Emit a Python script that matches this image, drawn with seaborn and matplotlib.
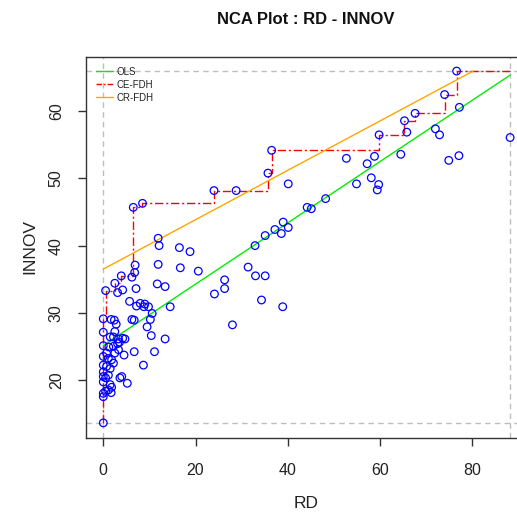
import numpy as np
import pandas as pd
import matplotlib
matplotlib.use("Agg")
import matplotlib.pyplot as plt
from matplotlib.lines import Line2D
import seaborn as sns

# ---------------- data ----------------
rd = [76.6, 74.0, 67.6, 65.3, 65.8, 59.8, 77.2, 72.0, 72.9, 88.2,
      52.7, 57.2, 58.8, 64.5, 74.9, 77.1, 40.1, 54.9, 58.1, 59.7,
      59.4, 48.2, 44.2, 45.1, 39.0, 40.1, 38.6, 37.2, 35.1, 32.9,
      38.9, 36.5, 35.7, 24.0, 28.8, 6.5, 8.5, 11.9, 12.1, 16.5,
      18.8, 16.7, 20.6, 31.4, 33.0, 35.1, 26.3, 26.3, 24.1, 34.3,
      28.0, 11.9, 6.8, 6.9, 0.5, 2.5, 3.9, 6.2, 3.1, 4.2,
      7.1, 11.7, 13.4, 5.7, 7.2, 8.0, 8.8, 9.0, 9.8, 10.6,
      14.5, 10.2, 9.5, 10.4, 13.4, 0.0, 0.0, 0.0, 1.7, 2.4,
      2.8, 6.2, 6.7, 2.5, 1.5, 2.2, 3.3, 4.2, 4.7, 1.2,
      2.2, 3.1, 3.5, 4.5, 6.7, 11.1, 8.7, 0.0, 0.0, 0.0,
      0.0, 0.0, 0.0, 0.0, 0.0, 0.7, 1.1, 1.8, 2.2, 0.7,
      1.5, 1.1, 0.5, 1.5, 1.8, 1.1, 0.5, 1.7, 3.6, 4.0,
      5.2, 2.5, 3.3]
innov = [66.0, 62.5, 59.7, 58.6, 56.9, 56.5, 60.6, 57.4, 56.5, 56.1,
         53.0, 52.2, 53.3, 53.6, 52.7, 53.4, 49.2, 49.2, 50.1, 49.1,
         48.3, 47.0, 45.7, 45.5, 43.5, 42.7, 41.8, 42.4, 41.5, 40.0,
         30.9, 54.2, 50.8, 48.2, 48.2, 45.7, 46.3, 41.1, 40.0, 39.7,
         39.1, 36.7, 36.2, 36.8, 35.5, 35.5, 34.9, 33.6, 32.8, 31.9,
         28.2, 37.2, 36.0, 37.1, 33.3, 34.4, 35.5, 35.3, 33.0, 33.4,
         33.6, 34.3, 33.9, 31.7, 31.0, 31.4, 30.9, 31.3, 30.9, 29.9,
         30.9, 29.0, 27.9, 26.6, 26.1, 29.1, 27.1, 25.1, 29.0, 28.9,
         28.3, 29.0, 28.9, 27.2, 26.4, 26.4, 26.1, 26.2, 26.1, 24.9,
         25.0, 25.4, 25.6, 23.7, 24.2, 24.2, 22.2, 23.5, 22.2, 21.2,
         20.5, 19.7, 18.0, 17.5, 13.6, 24.0, 23.2, 23.0, 22.5, 22.0,
         21.7, 20.7, 20.3, 19.3, 18.9, 18.5, 18.3, 18.1, 20.3, 20.5,
         19.5, 24.0, 24.5]

title = "NCA Plot : RD - INNOV"
x_label = "RD"
y_label = "INNOV"
x_ticks = [0, 20, 40, 60, 80]
y_ticks = [20, 30, 40, 50, 60]
legend_labels = ["OLS", "CE-FDH", "CR-FDH"]

# ---------------- style ----------------
sns.set_style("white")
plt.rcParams['font.family'] = ['Liberation Sans', 'DejaVu Sans']

W, H = 517, 515
fig = plt.figure(figsize=(W / 100, H / 100), dpi=100)
L, R, T, B = 86, 517, 57, 438
ax = fig.add_axes([L / W, 1 - B / H, (R - L) / W, (B - T) / H])

df = pd.DataFrame({"RD": rd, "INNOV": innov})
x = df["RD"].to_numpy()
y = df["INNOV"].to_numpy()
xmin, xmax = x.min(), x.max()
ymin, ymax = y.min(), y.max()

# axis ranges (R style 4% padding)
xr = xmax - xmin
yr = ymax - ymin
ax.set_xlim(xmin - 0.0425 * xr, xmin - 0.0425 * xr + (R - L) / 4.6125)
ax.set_ylim(ymin - 0.043 * yr, ymax + 0.04 * yr)

# scope lines
scope_kw = dict(color="#BEBEBE", lw=1.0, ls=(0, (4, 3)), zorder=1)
ax.axhline(ymin, **scope_kw)
ax.axhline(ymax, **scope_kw)
ax.axvline(xmin, **scope_kw)
ax.axvline(xmax, **scope_kw)

# points
sns.scatterplot(data=df, x="RD", y="INNOV", ax=ax, marker="o", s=30,
                facecolor="none", edgecolor="#0000FF", linewidth=0.9,
                zorder=3, legend=False)

# OLS
a_ols, b_ols = np.polyfit(x, y, 1)
x_end = min(xmax, (ymax - b_ols) / a_ols)
x_start = max(xmin, (ymin - b_ols) / a_ols)
ax.plot([x_start, x_end], [a_ols * x_start + b_ols, a_ols * x_end + b_ols],
        color="#00EE00", lw=1.0, zorder=2)

# CE-FDH peers
order = np.lexsort((-y, x))
xs, ys = x[order], y[order]
px, py = [], []
best = -np.inf
for xi, yi in zip(xs, ys):
    if yi > best:
        px.append(xi)
        py.append(yi)
        best = yi
px = np.array(px)
py = np.array(py)
sx = [px[0]]
sy = [ymin]
for i in range(len(px)):
    if i > 0:
        sx.append(px[i])
        sy.append(py[i - 1])
    sx.append(px[i])
    sy.append(py[i])
sx.append(xmax)
sy.append(py[-1])
ax.plot(sx, sy, color="#FF0000", lw=1.0, ls=(0, (6, 2, 1.5, 2)), zorder=2)

# CR-FDH
a_cr, b_cr = np.polyfit(px, py, 1)
xc_end = min(xmax, (ymax - b_cr) / a_cr)
ax.plot([xmin, xc_end], [a_cr * xmin + b_cr, a_cr * xc_end + b_cr],
        color="#FFA500", lw=1.0, zorder=2)

# axes styling
for side in ["left", "bottom", "top"]:
    ax.spines[side].set_visible(True)
    ax.spines[side].set_color("#333333")
    ax.spines[side].set_linewidth(1.0)
ax.spines["right"].set_visible(False)
ax.set_xticks(x_ticks)
ax.set_yticks(y_ticks)
ax.set_xticklabels([str(t) for t in x_ticks], fontsize=11.5, color="#222222")
ax.set_yticklabels([str(t) for t in y_ticks], fontsize=11.5, color="#222222",
                   rotation=90, va="center")
ax.tick_params(axis="both", direction="out", length=6, width=1.0,
               color="#333333", bottom=True, left=True)
ax.tick_params(axis="x", pad=12)
ax.tick_params(axis="y", pad=10)
ax.set_xlabel("")
ax.set_ylabel("")

fig.text(306 / W, 1 - 504 / H, x_label, ha="center", va="center",
         fontsize=12.5, color="#222222")
fig.text(30 / W, 1 - 247 / H, y_label, ha="center", va="center",
         rotation=90, fontsize=12.5, color="#222222")
fig.text(306 / W, 1 - 19 / H, title, ha="center", va="center",
         fontsize=12, fontweight="bold", color="#111111")

handles = [Line2D([], [], color="#00EE00", lw=1.0),
           Line2D([], [], color="#FF0000", lw=1.0, ls=(0, (4, 1.5, 1, 1.5))),
           Line2D([], [], color="#FFA500", lw=1.0)]
leg = ax.legend(handles, legend_labels, loc="upper left",
                bbox_to_anchor=(0, 1), borderaxespad=0, fontsize=7,
                frameon=True, fancybox=False, framealpha=0,
                edgecolor="#111111", handlelength=1.8, handletextpad=0.35,
                labelspacing=0.3, borderpad=1.0)
leg.get_frame().set_linewidth(1.0)
for t in leg.get_texts():
    t.set_color("#222222")

fig.savefig("out.png", dpi=100)
